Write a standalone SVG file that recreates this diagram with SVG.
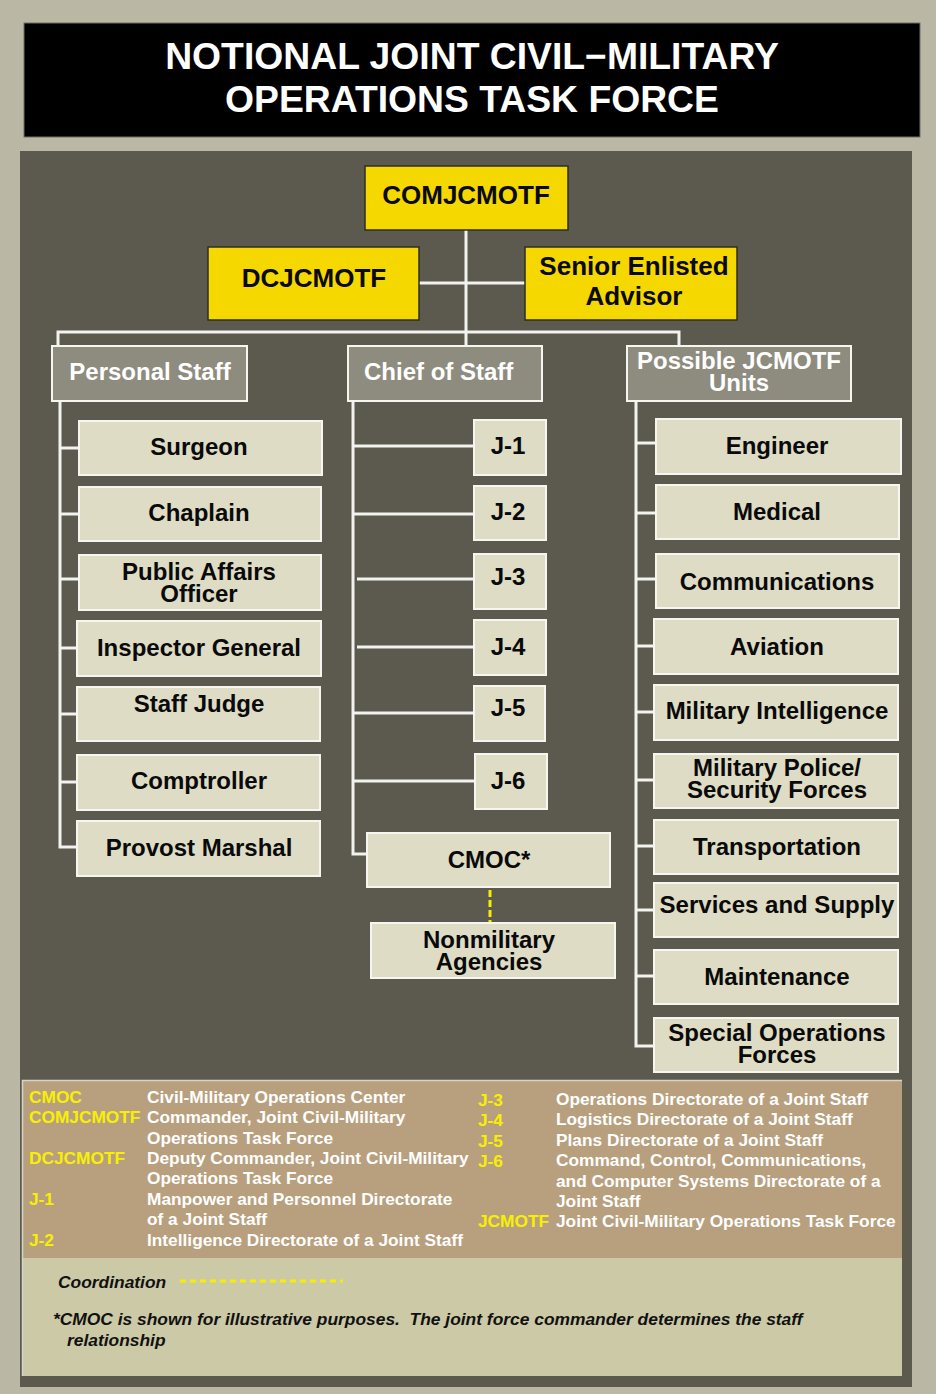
<svg xmlns="http://www.w3.org/2000/svg" width="936" height="1394" viewBox="0 0 936 1394">
  <style>
    text { font-family: "Liberation Sans", Arial, sans-serif; font-weight: bold; }
    .box { fill: #DEDCC4; stroke: #F6F6F0; stroke-width: 2; }
    .hdr { fill: #8E8C7E; stroke: #F6F6F0; stroke-width: 2; }
    .cmd { fill: #F5D800; stroke: #2E2E22; stroke-width: 1.5; }
    .bt { font-size: 24px; fill: #0A0A0A; text-anchor: middle; }
    .ct { font-size: 26px; fill: #0A0A0A; text-anchor: middle; }
    .ht { font-size: 24px; fill: #FFFFFF; text-anchor: middle; }
    .conn { stroke: #F2F2EE; stroke-width: 3; fill: none; }
    .coord { stroke: #F5EE00; stroke-width: 3; fill: none; }
    .ab { font-size: 17.3px; fill: #F8F000; }
    .df { font-size: 17.3px; fill: #FFFFFF; }
    .note { font-size: 17.4px; font-style: italic; fill: #111111; white-space: pre; }
  </style>

  <!-- page background -->
  <rect x="0" y="0" width="936" height="1394" fill="#BAB8A4"/>

  <!-- title banner -->
  <g id="title">
    <rect x="24" y="23" width="896" height="114" fill="#000000" stroke="#6E6E66" stroke-width="1"/>
    <text x="472" y="69" font-size="37.3" fill="#FFFFFF" text-anchor="middle">NOTIONAL JOINT CIVIL−MILITARY</text>
    <text x="472" y="112" font-size="37.3" fill="#FFFFFF" text-anchor="middle">OPERATIONS TASK FORCE</text>
  </g>

  <!-- chart panel -->
  <rect x="20" y="151" width="892" height="1236" fill="#5C5A4E"/>

  <!-- connectors -->
  <g id="connectors">
    <!-- command trunk -->
    <path class="conn" d="M466,230 V346"/>
    <path class="conn" d="M419,283 H525"/>
    <path class="conn" d="M58,346 V332 H679 V346"/>
    <!-- personal staff spine -->
    <path class="conn" d="M60,401 V847 H78"/>
    <path class="conn" d="M60,448 H79"/>
    <path class="conn" d="M60,514 H79"/>
    <path class="conn" d="M60,579 H79"/>
    <path class="conn" d="M60,648 H78"/>
    <path class="conn" d="M60,714 H78"/>
    <path class="conn" d="M60,782 H78"/>
    <!-- chief of staff spine -->
    <path class="conn" d="M353,401 V854 H367"/>
    <path class="conn" d="M353,446 H474"/>
    <path class="conn" d="M353,514 H474"/>
    <path class="conn" d="M357,579 H474"/>
    <path class="conn" d="M357,647 H474"/>
    <path class="conn" d="M353,713 H474"/>
    <path class="conn" d="M353,781 H475"/>
    <!-- units spine -->
    <path class="conn" d="M636,401 V1046 H655"/>
    <path class="conn" d="M636,443 H657"/>
    <path class="conn" d="M636,513 H657"/>
    <path class="conn" d="M636,579 H657"/>
    <path class="conn" d="M636,646 H655"/>
    <path class="conn" d="M636,712 H655"/>
    <path class="conn" d="M636,780 H655"/>
    <path class="conn" d="M636,846 H655"/>
    <path class="conn" d="M636,910 H655"/>
    <path class="conn" d="M636,976 H655"/>
    <!-- coordination link -->
    <path class="coord" d="M490,890 V922" stroke-dasharray="7 3"/>
  </g>

  <!-- command group -->
  <g id="comjcmotf">
    <rect class="cmd" x="365" y="166" width="203" height="64"/>
    <text class="ct" x="466" y="204">COMJCMOTF</text>
  </g>
  <g id="dcjcmotf">
    <rect class="cmd" x="208" y="247" width="211" height="73"/>
    <text class="ct" x="314" y="287">DCJCMOTF</text>
  </g>
  <g id="senior-enlisted-advisor">
    <rect class="cmd" x="525" y="247" width="212" height="73"/>
    <text class="ct" x="634" y="275">Senior Enlisted</text>
    <text class="ct" x="634" y="305">Advisor</text>
  </g>

  <!-- column headers -->
  <g id="personal-staff">
    <rect class="hdr" x="52" y="346" width="195" height="55"/>
    <text class="ht" x="150" y="380">Personal Staff</text>
  </g>
  <g id="chief-of-staff">
    <rect class="hdr" x="348" y="346" width="194" height="55"/>
    <text class="ht" x="364" y="380" style="text-anchor:start">Chief of Staff</text>
  </g>
  <g id="possible-units">
    <rect class="hdr" x="627" y="346" width="224" height="55"/>
    <text class="ht" x="739" y="369">Possible JCMOTF</text>
    <text class="ht" x="739" y="391">Units</text>
  </g>

  <!-- personal staff -->
  <g id="surgeon">
    <rect class="box" x="79" y="421" width="243" height="54"/>
    <text class="bt" x="199" y="455">Surgeon</text>
  </g>
  <g id="chaplain">
    <rect class="box" x="79" y="487" width="242" height="54"/>
    <text class="bt" x="199" y="521">Chaplain</text>
  </g>
  <g id="public-affairs">
    <rect class="box" x="79" y="555" width="242" height="55"/>
    <text class="bt" x="199" y="580">Public Affairs</text>
    <text class="bt" x="199" y="602">Officer</text>
  </g>
  <g id="inspector-general">
    <rect class="box" x="77" y="621" width="244" height="55"/>
    <text class="bt" x="199" y="656">Inspector General</text>
  </g>
  <g id="staff-judge">
    <rect class="box" x="77" y="687" width="243" height="54"/>
    <text class="bt" x="199" y="712">Staff Judge</text>
  </g>
  <g id="comptroller">
    <rect class="box" x="77" y="755" width="243" height="55"/>
    <text class="bt" x="199" y="789">Comptroller</text>
  </g>
  <g id="provost-marshal">
    <rect class="box" x="77" y="821" width="243" height="55"/>
    <text class="bt" x="199" y="856">Provost Marshal</text>
  </g>

  <!-- joint staff directorates -->
  <g id="j1">
    <rect class="box" x="474" y="420" width="72" height="55"/>
    <text class="bt" x="508" y="454">J-1</text>
  </g>
  <g id="j2">
    <rect class="box" x="474" y="486" width="72" height="54"/>
    <text class="bt" x="508" y="520">J-2</text>
  </g>
  <g id="j3">
    <rect class="box" x="474" y="554" width="72" height="55"/>
    <text class="bt" x="508" y="585">J-3</text>
  </g>
  <g id="j4">
    <rect class="box" x="474" y="620" width="72" height="55"/>
    <text class="bt" x="508" y="655">J-4</text>
  </g>
  <g id="j5">
    <rect class="box" x="474" y="686" width="71" height="55"/>
    <text class="bt" x="508" y="716">J-5</text>
  </g>
  <g id="j6">
    <rect class="box" x="475" y="754" width="72" height="55"/>
    <text class="bt" x="508" y="789">J-6</text>
  </g>
  <g id="cmoc">
    <rect class="box" x="367" y="833" width="243" height="54"/>
    <text class="bt" x="489" y="868">CMOC*</text>
  </g>
  <g id="nonmilitary-agencies">
    <rect class="box" x="371" y="923" width="244" height="55"/>
    <text class="bt" x="489" y="948">Nonmilitary</text>
    <text class="bt" x="489" y="970">Agencies</text>
  </g>

  <!-- possible units -->
  <g id="engineer">
    <rect class="box" x="656" y="419" width="245" height="55"/>
    <text class="bt" x="777" y="454">Engineer</text>
  </g>
  <g id="medical">
    <rect class="box" x="656" y="485" width="243" height="54"/>
    <text class="bt" x="777" y="520">Medical</text>
  </g>
  <g id="communications">
    <rect class="box" x="656" y="554" width="243" height="54"/>
    <text class="bt" x="777" y="590">Communications</text>
  </g>
  <g id="aviation">
    <rect class="box" x="654" y="619" width="244" height="55"/>
    <text class="bt" x="777" y="655">Aviation</text>
  </g>
  <g id="military-intelligence">
    <rect class="box" x="654" y="685" width="244" height="55"/>
    <text class="bt" x="777" y="719">Military Intelligence</text>
  </g>
  <g id="military-police">
    <rect class="box" x="654" y="754" width="244" height="54"/>
    <text class="bt" x="777" y="776">Military Police/</text>
    <text class="bt" x="777" y="798">Security Forces</text>
  </g>
  <g id="transportation">
    <rect class="box" x="654" y="820" width="244" height="54"/>
    <text class="bt" x="777" y="855">Transportation</text>
  </g>
  <g id="services-supply">
    <rect class="box" x="654" y="883" width="244" height="54"/>
    <text class="bt" x="777" y="913">Services and Supply</text>
  </g>
  <g id="maintenance">
    <rect class="box" x="654" y="950" width="244" height="54"/>
    <text class="bt" x="777" y="985">Maintenance</text>
  </g>
  <g id="special-operations">
    <rect class="box" x="654" y="1018" width="244" height="54"/>
    <text class="bt" x="777" y="1041">Special Operations</text>
    <text class="bt" x="777" y="1063">Forces</text>
  </g>

  <!-- legend -->
  <g id="legend">
    <rect x="22.5" y="1080.5" width="879.5" height="178" fill="#B8A07E"/>
    <rect x="22.5" y="1258" width="879.5" height="118" fill="#CCC9A6"/>
    <path d="M22.5,1376 V1080.5 H902" stroke="#D6D4C8" stroke-width="1.5" fill="none"/>

    <text class="ab" x="29" y="1103">CMOC</text>
    <text class="df" x="147" y="1103">Civil-Military Operations Center</text>
    <text class="ab" x="29" y="1123">COMJCMOTF</text>
    <text class="df" x="147" y="1123">Commander, Joint Civil-Military</text>
    <text class="df" x="147" y="1144">Operations Task Force</text>
    <text class="ab" x="29" y="1164">DCJCMOTF</text>
    <text class="df" x="147" y="1164">Deputy Commander, Joint Civil-Military</text>
    <text class="df" x="147" y="1184">Operations Task Force</text>
    <text class="ab" x="29" y="1205">J-1</text>
    <text class="df" x="147" y="1205">Manpower and Personnel Directorate</text>
    <text class="df" x="147" y="1225">of a Joint Staff</text>
    <text class="ab" x="29" y="1246">J-2</text>
    <text class="df" x="147" y="1246">Intelligence Directorate of a Joint Staff</text>

    <text class="ab" x="478" y="1106">J-3</text>
    <text class="df" x="556" y="1105">Operations Directorate of a Joint Staff</text>
    <text class="ab" x="478" y="1126">J-4</text>
    <text class="df" x="556" y="1125">Logistics Directorate of a Joint Staff</text>
    <text class="ab" x="478" y="1147">J-5</text>
    <text class="df" x="556" y="1146">Plans Directorate of a Joint Staff</text>
    <text class="ab" x="478" y="1167">J-6</text>
    <text class="df" x="556" y="1166">Command, Control, Communications,</text>
    <text class="df" x="556" y="1187">and Computer Systems Directorate of a</text>
    <text class="df" x="556" y="1207">Joint Staff</text>
    <text class="ab" x="478" y="1227">JCMOTF</text>
    <text class="df" x="556" y="1227">Joint Civil-Military Operations Task Force</text>

    <text class="note" x="58" y="1288">Coordination</text>
    <path class="coord" d="M180,1281 H343" stroke-dasharray="6 4"/>
    <text class="note" x="53" y="1325">*CMOC is shown for illustrative purposes.  The joint force commander determines the staff</text>
    <text class="note" x="67" y="1346">relationship</text>
  </g>
</svg>
